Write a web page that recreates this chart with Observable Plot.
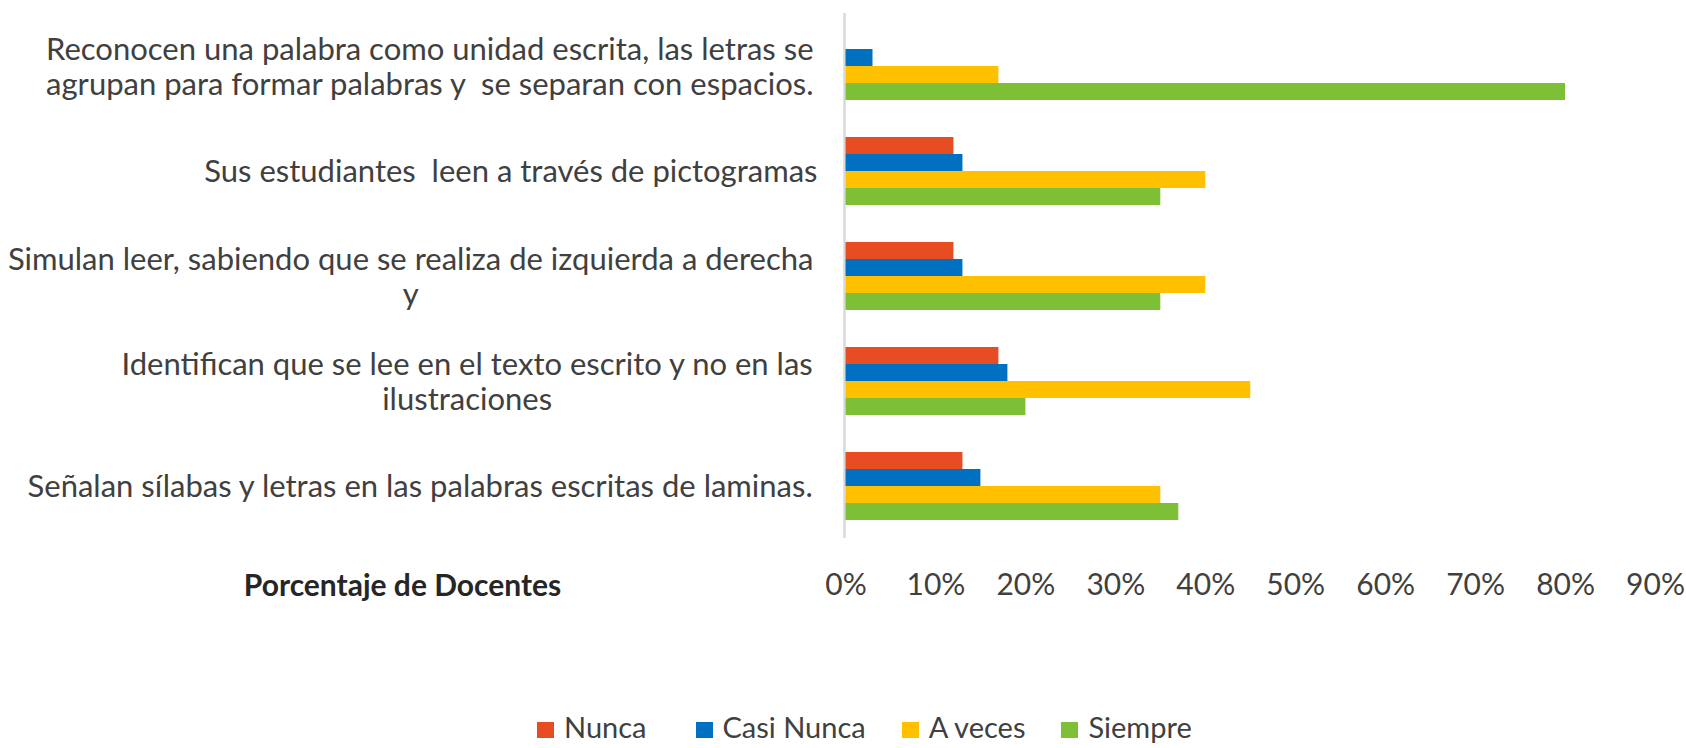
<!DOCTYPE html>
<html>
<head>
<meta charset="utf-8">
<script src="https://cdn.jsdelivr.net/npm/d3@7"></script>
<script src="https://cdn.jsdelivr.net/npm/@observablehq/plot@0.6"></script>
<style>
  html, body { margin: 0; padding: 0; background: #ffffff; }
  body { position: relative; width: 1686px; height: 748px; overflow: hidden; font-family: Lato, "Open Sans", sans-serif; }
  #chart { position: absolute; left: 0; top: 0; }
  #legend { position: absolute; left: 537px; top: 709px; display: flex; align-items: center; font-size: 29px; color: #404040; line-height: 35px; white-space: nowrap; }
  .item { display: flex; align-items: center; }
  .sw { display: inline-block; width: 17px; height: 16px; margin-right: 10px; transform: translateY(3px); }
</style>
</head>
<body>
<div id="chart"></div>
<div id="legend"></div>
<script>
// ---- data ----
const categories = [
  "Reconocen una palabra como unidad escrita, las letras se\nagrupan para formar palabras y  se separan con espacios.",
  "Sus estudiantes  leen a través de pictogramas",
  "Simulan leer, sabiendo que se realiza de izquierda a derecha\ny",
  "Identifican que se lee en el texto escrito y no en las\nilustraciones",
  "Señalan sílabas y letras en las palabras escritas de laminas."
];
const series = ["Nunca", "Casi Nunca", "A veces", "Siempre"];
const nunca     = [0.00, 0.12, 0.12, 0.17, 0.13];
const casiNunca = [0.03, 0.13, 0.13, 0.18, 0.15];
const aVeces    = [0.17, 0.40, 0.40, 0.45, 0.35];
const siempre   = [0.80, 0.35, 0.35, 0.20, 0.37];
const xTicks = [0, 0.1, 0.2, 0.3, 0.4, 0.5, 0.6, 0.7, 0.8, 0.9];
const colors = ["#E84C22", "#0070C0", "#FFC000", "#7DC036"];
const xTitle = "Porcentaje de Docentes";

// ---- table ----
const seriesValues = [nunca, casiNunca, aVeces, siempre];
const data = [];
categories.forEach((c, i) => {
  series.forEach((s, j) => data.push({category: c, series: s, value: seriesValues[j][i]}));
});

// ---- label widths (centered multi-line labels, right-aligned blocks) ----
const LABEL_SIZE = 31;
const ctx = document.createElement("canvas").getContext("2d");
ctx.font = `${LABEL_SIZE}px Lato`;
const widths = categories.map(c => Math.max(...c.split("\n").map(l => ctx.measureText(l.replace(/ +/g, " ")).width)));
const GAP = 32.5;

const labelMarks = categories.map((c, i) =>
  Plot.text([c], {
    fy: d => d,
    text: d => d,
    frameAnchor: "left",
    textAnchor: "middle",
    lineAnchor: "middle",
    lineHeight: 1.15,
    fontSize: LABEL_SIZE,
    dx: -(GAP + widths[i] / 2),
    dy: 0,
    fill: "#404040"
  })
);

const chart = Plot.plot({
  width: 1686,
  height: 640,
  marginTop: 13,
  marginBottom: 102,
  marginLeft: 845.5,
  marginRight: 31,
  style: {fontFamily: "Lato", fontSize: "30px", color: "#404040", background: "#ffffff", overflow: "visible"},
  x: {domain: [0, 0.9], ticks: xTicks, tickFormat: d3.format(".0%"), tickSize: 0, tickPadding: 35, label: null},
  y: {domain: series, paddingInner: 0, paddingOuter: 0.97, axis: null},
  fy: {domain: categories, padding: 0, axis: null},
  color: {domain: series, range: colors},
  marks: [
    Plot.ruleX([0], {stroke: "#d9d9d9", strokeWidth: 2.5, dx: -1.5}),
    Plot.barX(data, {x1: 0, x2: "value", y: "series", fy: "category", fill: "series", inset: 0}),
    ...labelMarks,
    Plot.text([categories[categories.length - 1]], {
      fy: d => d,
      text: () => xTitle,
      frameAnchor: "bottom-left",
      textAnchor: "middle",
      lineAnchor: "middle",
      fontSize: 30,
      dx: 402 - 845.5,
      dy: 48,
      fontWeight: "bold",
      fill: "#262626"
    })
  ]
});
document.getElementById("chart").appendChild(chart);

// ---- legend ----
const legendGaps = [49, 36, 36, 0];
const legend = document.getElementById("legend");
series.forEach((s, j) => {
  const item = document.createElement("div");
  item.className = "item";
  item.style.marginRight = legendGaps[j] + "px";
  const sw = document.createElement("span");
  sw.className = "sw";
  sw.style.background = colors[j];
  const lab = document.createElement("span");
  lab.textContent = s;
  item.appendChild(sw);
  item.appendChild(lab);
  legend.appendChild(item);
});
</script>
</body>
</html>
